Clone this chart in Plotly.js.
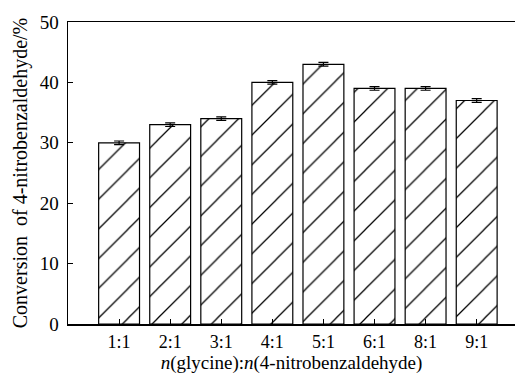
<!DOCTYPE html>
<html>
<head>
<meta charset="utf-8">
<script src="https://cdn.plot.ly/plotly-3.0.1.min.js"></script>
<style>html,body{margin:0;padding:0;background:#fff;}#chart{width:515px;height:374px;}</style>
</head>
<body>
<div id="chart"></div>
<script>
var categories = ["1:1", "2:1", "3:1", "4:1", "5:1", "6:1", "8:1", "9:1"];
var conversion = [30, 33, 34, 40, 43, 39, 39, 37];
var errors = [0.3, 0.3, 0.3, 0.3, 0.3, 0.3, 0.3, 0.3];
var yTicks = [0, 10, 20, 30, 40, 50];

var trace = {
  type: 'bar',
  x: categories,
  y: conversion,
  width: 0.8,
  marker: {
    color: '#ffffff',
    line: {color: '#000000', width: 1.2},
    pattern: {shape: '/', size: 21, solidity: 0.06, fgcolor: '#000000', bgcolor: '#ffffff', fillmode: 'replace'}
  },
  error_y: {type: 'data', array: errors, visible: true, color: '#000000', thickness: 1.2, width: 5}
};

var font = 'Liberation Serif, Times New Roman, serif';
var layout = {
  width: 515, height: 374,
  margin: {l: 68, r: 0, t: 22, b: 50},
  paper_bgcolor: '#ffffff', plot_bgcolor: '#ffffff',
  showlegend: false,
  font: {family: font, color: '#000000'},
  xaxis: {
    type: 'category',
    range: [-1.0, 7.75],
    showline: true, linecolor: '#000000', linewidth: 1.5, mirror: true,
    ticks: 'inside', ticklen: 5, tickcolor: '#000000', tickwidth: 1,
    showgrid: false, zeroline: false,
    tickfont: {family: font, size: 18, color: '#000000'},
    ticklabelstandoff: 1,
    title: {text: '<i>n</i>(glycine):<i>n</i>(4-nitrobenzaldehyde)', font: {family: font, size: 19, color: '#000000'}, standoff: 0}
  },
  yaxis: {
    range: [0, 50],
    tickvals: yTicks,
    showline: true, linecolor: '#000000', linewidth: 1.5, mirror: false,
    ticks: 'inside', ticklen: 5, tickcolor: '#000000', tickwidth: 1,
    showgrid: false, zeroline: false,
    tickfont: {family: font, size: 19, color: '#000000'},
    ticklabelstandoff: 4,
    title: {text: 'Conversion\u00a0\u00a0of 4-nitrobenzaldehyde/%', font: {family: font, size: 20, color: '#000000'}, standoff: 6}
  }
};

Plotly.newPlot('chart', [trace], layout, {staticPlot: true, displayModeBar: false});
</script>
</body>
</html>
